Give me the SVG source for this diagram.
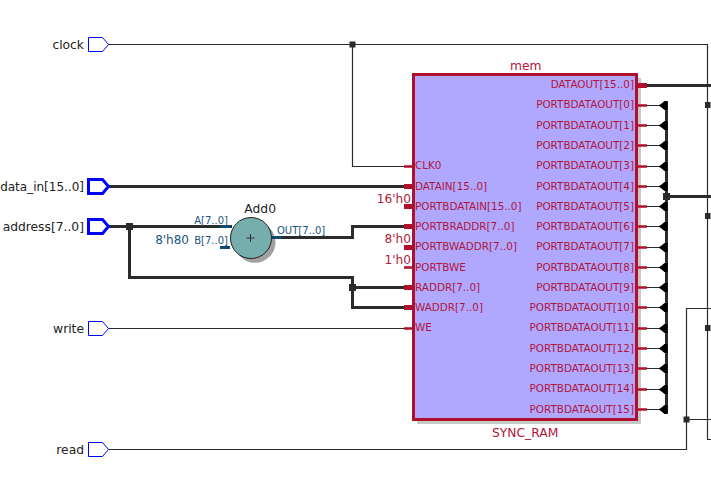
<svg xmlns="http://www.w3.org/2000/svg" width="711" height="493" viewBox="0 0 711 493">
<style>
text{font-family:"DejaVu Sans",sans-serif;font-size:10.4px}
.n{fill:#222;font-size:12.3px;text-anchor:end}
.r{fill:#b0163a}
.e{text-anchor:end}
.c{fill:#b0203c;font-size:12.2px;text-anchor:end}
.b{fill:#1a5580;font-size:10px}
.w{fill:none;stroke:#2b2b2b;stroke-width:1.2}
.bus{fill:none;stroke:#2b2b2b;stroke-width:3}
.pin{fill:#fff;stroke:#00f;stroke-width:1}
.pinb{fill:#fff;stroke:#00f;stroke-width:3}
.j{fill:#2b2b2b}
.p{stroke:#b0102e;stroke-width:2.500;fill:none}
.pb{stroke:#b0102e;stroke-width:5;fill:none}
.t{fill:#000}
</style>
<g id="connectors">
<path class="w" d="M108 44.500H707.500V439.500H711M352.500 44.500V166.500H405M108 328.500H405M108 449.500H686.500V308.500H711M686.500 419.500H711"/>
<path class="bus" d="M109 186.500H405M109 226.500H232M272 237.500H352.500V226.500H405M129.500 226.500V277.500H352.500V307.500H405M352.500 287.500H405M645 85.500H711M666.500 101.500V413.500M666.500 196.500H711"/>
<path class="w" d="M645 105.500H660M645 125.500H660M645 145.500H660M645 166.500H660M645 186.500H660M645 206.500H660M645 226.500H660M645 247.500H660M645 267.500H660M645 287.500H660M645 307.500H660M645 328.500H660M645 348.500H660M645 368.500H660M645 389.500H660M645 409.500H660"/>
<defs><path id="ah" d="M658.500 0l3 -2l3 -2.500h3v9h-3l-3 -2.500z"/></defs>
<g class="t">
<use href="#ah" y="105.500"/><use href="#ah" y="125.500"/><use href="#ah" y="145.500"/><use href="#ah" y="166.500"/><use href="#ah" y="186.500"/><use href="#ah" y="206.500"/><use href="#ah" y="226.500"/><use href="#ah" y="247.500"/><use href="#ah" y="267.500"/><use href="#ah" y="287.500"/><use href="#ah" y="307.500"/><use href="#ah" y="328.500"/><use href="#ah" y="348.500"/><use href="#ah" y="368.500"/><use href="#ah" y="389.500"/><use href="#ah" y="409.500"/>
</g>
<g class="j">
<rect x="349.500" y="41.500" width="6" height="6"/>
<rect x="126" y="223" width="7" height="7"/>
<rect x="349" y="284" width="7" height="7"/>
<rect x="663" y="193" width="7" height="7"/>
<rect x="705" y="102" width="5.500" height="6"/>
<rect x="705" y="213" width="5.500" height="6"/>
<rect x="705" y="325" width="5.500" height="6"/>
<rect x="683.500" y="416.500" width="6" height="6"/>
</g>
</g>
<g id="clock"><path class="pin" d="M88.500 37.500H102.500L108.500 44.500L102.500 51.500H88.500Z"/><text class="n" x="84" y="49">clock</text></g>
<g id="data_in"><path class="pinb" d="M88.500 179.500H102.500L108.500 186.500L102.500 193.500H88.500Z"/><text class="n" x="84" y="191" style="font-size:12px">data_in[15..0]</text></g>
<g id="address"><path class="pinb" d="M88.500 219.500H102.500L108.500 226.500L102.500 233.500H88.500Z"/><text class="n" x="84" y="231">address[7..0]</text></g>
<g id="write"><path class="pin" d="M88.500 321.500H102.500L108.500 328.500L102.500 335.500H88.500Z"/><text class="n" x="84" y="333">write</text></g>
<g id="read"><path class="pin" d="M88.500 442.500H102.500L108.500 449.500L102.500 456.500H88.500Z"/><text class="n" x="84" y="454">read</text></g>
<g id="Add0">
<circle cx="255" cy="242.300" r="20.500" fill="#a0a0a0"/>
<circle cx="251" cy="238" r="20.500" fill="#76aeae" stroke="#222" stroke-width="1"/>
<path d="M246.500 238H254.500M250.500 234V242" stroke="#333" stroke-width="1" fill="none"/>
<path d="M220 226.500H230M220 247.500H230M271.500 237.500H281" stroke="#0f4a72" stroke-width="3" fill="none"/>
<text class="n" x="276" y="213">Add0</text>
<text class="b e" x="228" y="224">A[7..0]</text>
<text class="b e" x="228" y="244">B[7..0]</text>
<text class="b" x="277" y="234">OUT[7..0]</text>
<text class="b e" x="189" y="244" style="font-size:12px">8'h80</text>
</g>
<g id="mem">
<rect x="417" y="78" width="224" height="346" fill="#c8c8c8"/>
<rect x="413.500" y="74.500" width="223" height="345" fill="#b0a8ff" stroke="#b0102e" stroke-width="3"/>
<path class="p" d="M404 166.500H413M404 328.500H413M404 267.500H413"/>
<path class="pb" d="M404 186.500H413M404 206.500H413M404 226.500H413M404 247.500H413M404 287.500H413M404 307.500H413"/>
<path class="pb" d="M638 85.500H647"/>
<path class="p" d="M638 105.500H647M638 125.500H647M638 145.500H647M638 166.500H647M638 186.500H647M638 206.500H647M638 226.500H647M638 247.500H647M638 267.500H647M638 287.500H647M638 307.500H647M638 328.500H647M638 348.500H647M638 368.500H647M638 389.500H647M638 409.500H647"/>
<text class="r" x="510" y="70" style="font-size:12.300px">mem</text>
<text class="r" x="492" y="437" style="font-size:12.300px">SYNC_RAM</text>
<g class="r">
<text x="415" y="169">CLK0</text>
<text x="415" y="190">DATAIN[15..0]</text>
<text x="415" y="210">PORTBDATAIN[15..0]</text>
<text x="415" y="230">PORTBRADDR[7..0]</text>
<text x="415" y="250">PORTBWADDR[7..0]</text>
<text x="415" y="271">PORTBWE</text>
<text x="415" y="291">RADDR[7..0]</text>
<text x="415" y="311">WADDR[7..0]</text>
<text x="415" y="331">WE</text>
</g>
<g class="r e">
<text class="e" x="634" y="88">DATAOUT[15..0]</text>
<text class="e" x="634" y="108">PORTBDATAOUT[0]</text>
<text class="e" x="634" y="129">PORTBDATAOUT[1]</text>
<text class="e" x="634" y="149">PORTBDATAOUT[2]</text>
<text class="e" x="634" y="169">PORTBDATAOUT[3]</text>
<text class="e" x="634" y="190">PORTBDATAOUT[4]</text>
<text class="e" x="634" y="210">PORTBDATAOUT[5]</text>
<text class="e" x="634" y="230">PORTBDATAOUT[6]</text>
<text class="e" x="634" y="250">PORTBDATAOUT[7]</text>
<text class="e" x="634" y="271">PORTBDATAOUT[8]</text>
<text class="e" x="634" y="291">PORTBDATAOUT[9]</text>
<text class="e" x="634" y="311">PORTBDATAOUT[10]</text>
<text class="e" x="634" y="331">PORTBDATAOUT[11]</text>
<text class="e" x="634" y="352">PORTBDATAOUT[12]</text>
<text class="e" x="634" y="372">PORTBDATAOUT[13]</text>
<text class="e" x="634" y="392">PORTBDATAOUT[14]</text>
<text class="e" x="634" y="413">PORTBDATAOUT[15]</text>
</g>
<text class="c" x="411" y="203">16'h0</text>
<text class="c" x="411" y="243">8'h0</text>
<text class="c" x="411" y="264">1'h0</text>
</g>
</svg>
